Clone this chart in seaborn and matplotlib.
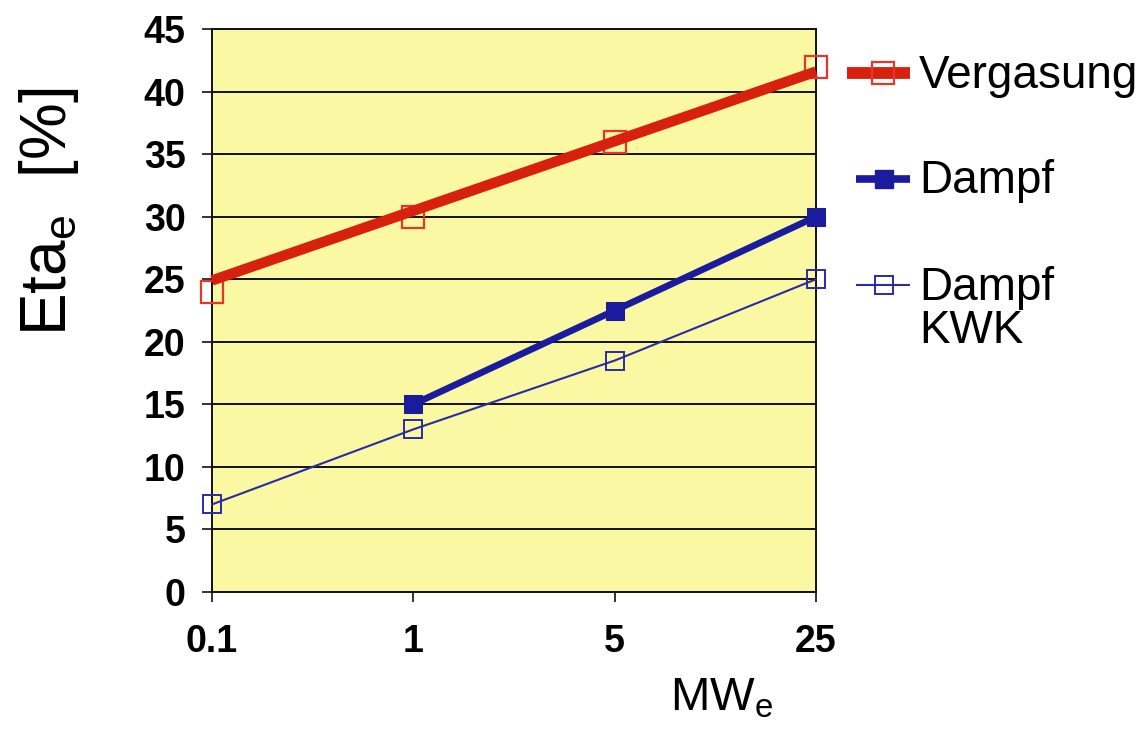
import pandas as pd
import numpy as np
import seaborn as sns
import matplotlib
matplotlib.use("Agg")
import matplotlib.pyplot as plt
from matplotlib.lines import Line2D

# ---------------- DATA ----------------
sizes = ["0.1", "1", "5", "25"]                 # MW_e
vergasung = [24, 30, 36, 42]                     # markers
vergasung_trend = [24.9, 41.6]                   # straight line 0.1 -> 25
dampf = [np.nan, 15, 22.5, 30]
dampf_kwk = [7, 13, 18.5, 25]

# ---------------- STYLE ----------------
sns.set_style("ticks")
plt.rcParams["font.family"] = ["Liberation Sans", "DejaVu Sans"]
plt.rcParams["text.color"] = "black"
plt.rcParams["xtick.labelcolor"] = "black"
plt.rcParams["ytick.labelcolor"] = "black"

RED = "#D8200F"
RED_MK = "#E5362A"
BLUE = "#1B1B9E"
BLUE_THIN = "#2B2BA6"
YELLOW = "#FAF8A2"

W, H = 1146, 737
fig = plt.figure(figsize=(W / 100, H / 100), dpi=100)
ax = fig.add_axes([212 / W, 1 - 592 / H, (816 - 212) / W, (592 - 29) / H])
ax.set_facecolor(YELLOW)

df = pd.DataFrame({
    "pos": range(len(sizes)),
    "size": sizes,
    "Vergasung": vergasung,
    "Dampf": dampf,
    "Dampf KWK": dampf_kwk,
})
trend = pd.DataFrame({"pos": [0, len(sizes) - 1], "eta": vergasung_trend})

# ---------------- PLOT ----------------
sns.lineplot(data=df, x="pos", y="Dampf KWK", ax=ax, color=BLUE_THIN, lw=1.5,
             marker="s", ms=12.5, mfc="none", mec=BLUE_THIN, mew=1.4,
             clip_on=False, zorder=3)
sns.lineplot(data=df, x="pos", y="Dampf", ax=ax, color=BLUE, lw=4.8,
             marker="s", ms=12.5, mfc=BLUE, mec=BLUE, clip_on=False, zorder=4)
sns.lineplot(data=df, x="pos", y="Vergasung", ax=ax, linestyle="none",
             marker="s", ms=15.5, mfc="none", mec=RED_MK, mew=1.6,
             clip_on=False, zorder=4)
sns.lineplot(data=trend, x="pos", y="eta", ax=ax, color=RED, lw=7.5,
             solid_capstyle="butt", clip_on=False, zorder=5)

ax.set_xlim(0, len(sizes) - 1)
ax.set_ylim(0, 45)
ax.set_xticks(range(len(sizes)))
ax.set_xticklabels(sizes)
ax.set_yticks(range(0, 50, 5))
ax.set_xlabel("")
ax.set_ylabel("")

ax.yaxis.grid(True, color="#111111", lw=1.4)
ax.set_axisbelow(True)
for s in ax.spines.values():
    s.set_visible(True)
    s.set_color("#111111")
    s.set_linewidth(1.4)

ax.tick_params(axis="both", direction="out", length=7, width=1.2,
               color="#111111", labelsize=27, labelcolor="black")
ax.tick_params(axis="y", pad=12)
ax.tick_params(axis="x", pad=16)
for lab in ax.get_xticklabels() + ax.get_yticklabels():
    lab.set_fontweight("bold")

# axis titles
fig.text(49 / W, 1 - 212 / H, r"Eta$_\mathregular{e}$  [%]", rotation=90,
         ha="center", va="center", fontsize=46)
fig.text(722 / W, 1 - 710 / H, r"MW$_\mathregular{e}$", ha="center",
         va="baseline", fontsize=34)

# ---------------- LEGEND ----------------
def legend_entry(y, x0, x1, xm, lw, color, ms, mfc, mec, mew):
    fy = 1 - y / H
    fig.add_artist(Line2D([x0 / W, x1 / W], [fy, fy], transform=fig.transFigure,
                          color=color, lw=lw, solid_capstyle="butt"))
    fig.add_artist(Line2D([xm / W], [fy], transform=fig.transFigure, ls="none",
                          marker="s", ms=ms, mfc=mfc, mec=mec, mew=mew))

legend_entry(73, 847, 910, 883, 8.5, RED, 15.5, "none", RED_MK, 1.6)
legend_entry(179, 856, 910, 884, 5.5, BLUE, 13, BLUE, BLUE, 1.0)
legend_entry(285, 856, 910, 884, 1.5, BLUE_THIN, 12.5, "none", BLUE_THIN, 1.4)

fig.text(919 / W, 1 - 88 / H, "Vergasung", fontsize=33, va="baseline")
fig.text(919 / W, 1 - 193 / H, "Dampf", fontsize=33, va="baseline")
fig.text(919 / W, 1 - 300 / H, "Dampf", fontsize=33, va="baseline")
fig.text(919 / W, 1 - 343 / H, "KWK", fontsize=33, va="baseline")

fig.savefig("out.png", dpi=100)
